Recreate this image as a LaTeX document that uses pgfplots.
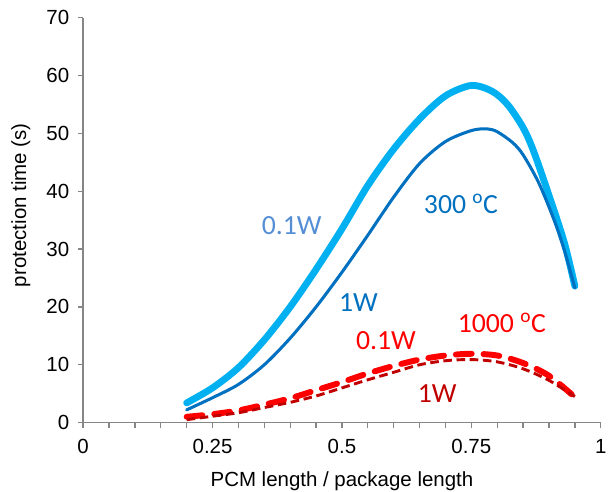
\documentclass[border=0pt]{standalone}
\usepackage{fontspec}
\setmainfont{Liberation Sans}
\newfontfamily\calfont{Carlito}
\usepackage{pgfplots}
\pgfplotsset{compat=1.18}
\definecolor{lblue}{HTML}{00B0F0}
\definecolor{dblue}{HTML}{0070C0}
\definecolor{lbtext}{HTML}{558ED5}
\definecolor{dred}{HTML}{C00000}
\definecolor{axgray}{HTML}{868686}
\begin{document}
\begin{tikzpicture}
\begin{axis}[
  scale only axis,
  width=392.25pt, height=306.75pt,
  xmin=0, xmax=1, ymin=0, ymax=70,
  axis lines*=left,
  axis line style={axgray, line width=1.1pt},
  every tick/.style={axgray, line width=1pt},
  tick align=outside,
  major tick length=4pt, minor tick length=4pt,
  xtick={0,0.25,0.5,0.75,1},
  xticklabels={0,0.25,0.5,0.75,1},
  minor xtick={0.05,0.1,0.15,0.2,0.3,0.35,0.4,0.45,0.55,0.6,0.65,0.7,0.8,0.85,0.9,0.95},
  ytick={0,10,...,70},
  scaled x ticks=false,
  /pgf/number format/assume math mode=true,
  tick label style={font=\fontsize{15.5}{18}\selectfont, black},
  yticklabel style={xshift=-3pt},
  xticklabel style={yshift=-5pt},
  xlabel={PCM length / package length},
  ylabel={protection time (s)},
  label style={font=\fontsize{15.5}{18}\selectfont, black},
  xlabel style={at={(axis description cs:0.5,-0.144)}, anchor=center},
  ylabel style={at={(axis description cs:-0.1205,0.537)}, anchor=center},
  clip=false,
]
\coordinate (sw) at (rel axis cs:0,0);
\coordinate (ne) at (rel axis cs:1,1);
% 0.1 W, 300 C
\addplot[lblue, line width=5.2pt, smooth, line cap=round] coordinates {
(0.20,3.4) (0.25,6.0) (0.30,9.5) (0.35,14.3) (0.40,20.0) (0.45,26.5)
(0.50,33.5) (0.55,41.0) (0.60,47.3) (0.65,52.5) (0.70,56.5) (0.75,58.3)
(0.79,57.3) (0.82,55.0) (0.85,51.0) (0.87,47.0) (0.90,39.3) (0.93,31.0) (0.95,23.6)
};
% 1 W, 300 C
\addplot[dblue, line width=2.3pt, smooth, line cap=round] coordinates {
(0.20,2.2) (0.25,4.3) (0.30,6.6) (0.35,10.0) (0.40,14.6) (0.45,20.0)
(0.50,26.0) (0.55,32.4) (0.60,39.0) (0.65,44.8) (0.70,48.6) (0.75,50.5)
(0.78,50.8) (0.80,50.3) (0.83,48.4) (0.85,46.3) (0.88,41.5) (0.91,35.0) (0.93,29.7) (0.95,23.3)
};
% 0.1 W, 1000 C
\addplot[red, line width=4.5pt, smooth, line cap=round, dash pattern=on 12pt off 9pt] coordinates {
(0.20,1.0) (0.25,1.45) (0.30,2.1) (0.35,3.1) (0.40,4.2) (0.45,5.6)
(0.50,7.0) (0.55,8.5) (0.60,9.8) (0.65,10.9) (0.70,11.6) (0.75,11.9)
(0.80,11.6) (0.85,10.3) (0.90,8.1) (0.95,4.4)
};
% 1 W, 1000 C
\addplot[dred, line width=2.2pt, smooth, dash pattern=on 6.5pt off 3.5pt] coordinates {
(0.20,0.5) (0.25,1.1) (0.30,1.7) (0.35,2.6) (0.40,3.5) (0.45,4.6)
(0.50,6.0) (0.55,7.4) (0.60,8.7) (0.65,10.0) (0.70,10.7) (0.75,10.9)
(0.80,10.5) (0.85,9.3) (0.90,7.3) (0.95,4.5)
};
\node[lbtext, font=\calfont\fontsize{21}{24}\selectfont] at (axis cs:0.403,34.1) {0.1W};
\node[dblue, font=\calfont\fontsize{21}{24}\selectfont] at (axis cs:0.730,37.8) {300 \textsuperscript{o}C};
\node[dblue, font=\calfont\fontsize{21}{24}\selectfont] at (axis cs:0.532,20.7) {1W};
\node[red, font=\calfont\fontsize{21}{24}\selectfont] at (axis cs:0.809,17.3) {1000 \textsuperscript{o}C};
\node[red, font=\calfont\fontsize{21}{24}\selectfont] at (axis cs:0.585,14.2) {0.1W};
\node[dred, font=\calfont\fontsize{21}{24}\selectfont] at (axis cs:0.684,5.0) {1W};
\end{axis}
\pgfresetboundingbox
\path ([shift={(-63pt,-52.5pt)}]sw) rectangle ([shift={(5.5pt,13.5pt)}]ne);
\end{tikzpicture}
\end{document}
